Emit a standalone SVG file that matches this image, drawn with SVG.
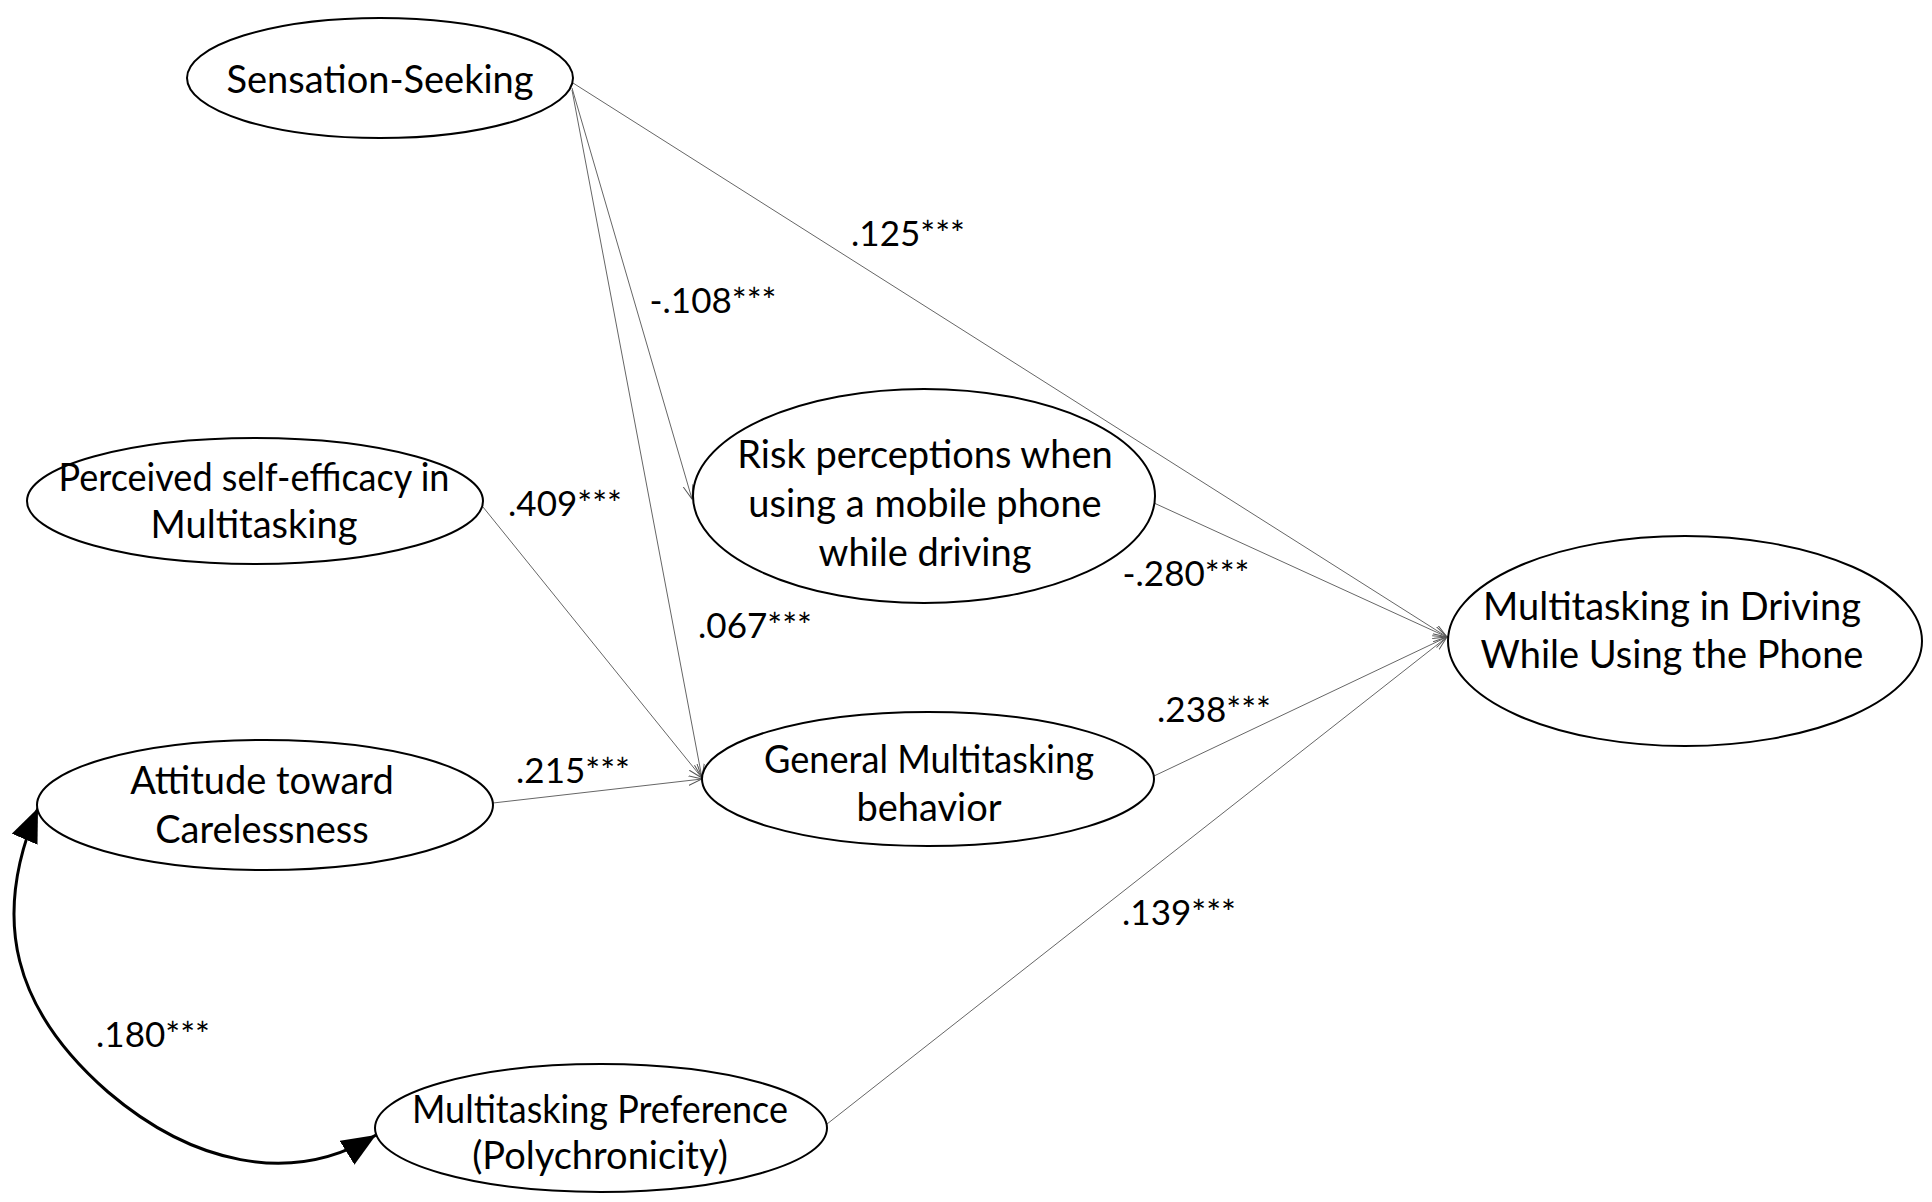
<svg xmlns="http://www.w3.org/2000/svg" width="1932" height="1202" viewBox="0 0 1932 1202">
<style>
  .node ellipse { fill: #fff; stroke: #000; stroke-width: 2; }
  .node text { font-family: Lato, "Open Sans", sans-serif; font-size: 38px; fill: #000; text-anchor: middle; }
  .lbl { font-family: Lato, "Open Sans", sans-serif; font-size: 35px; fill: #000; text-anchor: middle; }
  .edge { fill: none; stroke: #666; stroke-width: 1; marker-end: url(#open); }
  .cov { fill: none; stroke: #000; stroke-width: 3; marker-start: url(#solid); marker-end: url(#solid); }
</style>
<defs>
  <marker id="open" markerUnits="userSpaceOnUse" markerWidth="16" markerHeight="12" refX="14" refY="5" orient="auto">
    <path d="M0,0 L14,5 L0,10" fill="none" stroke="#555" stroke-width="1"/>
  </marker>
  <marker id="solid" markerUnits="userSpaceOnUse" markerWidth="40" markerHeight="30" refX="34" refY="14" orient="auto-start-reverse">
    <path d="M0,0 L34,14 L0,28 Z" fill="#000"/>
  </marker>
</defs>
<rect width="1932" height="1202" fill="#fff"/>
<g id="connectors">
  <line class="edge" x1="573" y1="83" x2="1447" y2="637"/>
  <line class="edge" x1="572" y1="88" x2="692" y2="499"/>
  <line class="edge" x1="572" y1="90" x2="702" y2="778"/>
  <line class="edge" x1="483" y1="507" x2="702" y2="778"/>
  <line class="edge" x1="493" y1="803" x2="702" y2="779"/>
  <line class="edge" x1="1154" y1="503" x2="1447" y2="637"/>
  <line class="edge" x1="1154" y1="776" x2="1447" y2="637"/>
  <line class="edge" x1="827" y1="1124" x2="1447" y2="637"/>
  <path class="cov" d="M 38 808 C -10 920, 14 1010, 108 1092 C 190 1162, 290 1188, 376 1135"/>
  <text class="lbl" x="908" y="246">.125***</text>
  <text class="lbl" x="713" y="313">-.108***</text>
  <text class="lbl" x="565" y="516">.409***</text>
  <text class="lbl" x="755" y="638">.067***</text>
  <text class="lbl" x="1186" y="586">-.280***</text>
  <text class="lbl" x="1214" y="722">.238***</text>
  <text class="lbl" x="573" y="783">.215***</text>
  <text class="lbl" x="1179" y="925">.139***</text>
  <text class="lbl" x="153" y="1047">.180***</text>
</g>
<g id="n-sensation" class="node">
  <ellipse cx="380" cy="78" rx="193" ry="60"/>
  <text x="380" y="93">Sensation-Seeking</text>
</g>
<g id="n-selfefficacy" class="node">
  <ellipse cx="255" cy="501" rx="228" ry="63"/>
  <text x="254" y="491" textLength="391" lengthAdjust="spacingAndGlyphs">Perceived self-efficacy in</text>
  <text x="254" y="538">Multitasking</text>
</g>
<g id="n-attitude" class="node">
  <ellipse cx="265" cy="805" rx="228" ry="65"/>
  <text x="262" y="794">Attitude toward</text>
  <text x="262" y="843">Carelessness</text>
</g>
<g id="n-preference" class="node">
  <ellipse cx="601" cy="1128" rx="226" ry="64"/>
  <text x="600" y="1123" textLength="376" lengthAdjust="spacingAndGlyphs">Multitasking Preference</text>
  <text x="600" y="1169">(Polychronicity)</text>
</g>
<g id="n-risk" class="node">
  <ellipse cx="924" cy="496" rx="231" ry="107"/>
  <text x="925" y="468">Risk perceptions when</text>
  <text x="925" y="517">using a mobile phone</text>
  <text x="925" y="566">while driving</text>
</g>
<g id="n-general" class="node">
  <ellipse cx="928" cy="779" rx="226" ry="67"/>
  <text x="929" y="773" textLength="330" lengthAdjust="spacingAndGlyphs">General Multitasking</text>
  <text x="929" y="821">behavior</text>
</g>
<g id="n-outcome" class="node">
  <ellipse cx="1685" cy="641" rx="237" ry="105"/>
  <text x="1672" y="620">Multitasking in Driving</text>
  <text x="1672" y="668">While Using the Phone</text>
</g>
</svg>
